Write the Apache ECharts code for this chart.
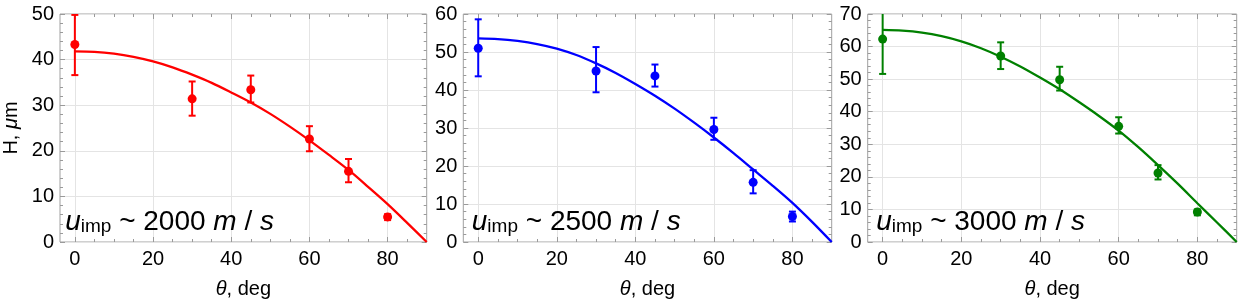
<!DOCTYPE html>
<html><head><meta charset="utf-8">
<script src="https://cdn.jsdelivr.net/npm/echarts@6/dist/echarts.min.js"></script>
<style>html,body{margin:0;padding:0;background:#fff}#c{width:1242px;height:304px}</style>
</head><body><div id="c"></div>
<script>
// ---- data ----
const angles = [0, 30, 45, 60, 70, 80];
const h2000 = [43.3, 31.4, 33.4, 22.6, 15.5, 5.5];
const h2000Lo = [36.6, 27.7, 30.6, 19.9, 13.1, 4.8];
const h2000Hi = [49.8, 35.2, 36.5, 25.4, 18.2, 6.1];
const h2500 = [51.0, 45.0, 43.7, 29.6, 15.7, 6.7];
const h2500Lo = [43.6, 39.4, 40.9, 26.9, 12.8, 5.4];
const h2500Hi = [58.6, 51.3, 46.7, 32.7, 18.9, 8.0];
const h3000 = [62.3, 57.1, 49.8, 35.5, 21.2, 9.2];
const h3000Lo = [51.6, 53.1, 46.5, 33.3, 19.2, 8.2];
const h3000Hi = [73.0, 61.3, 53.8, 38.3, 23.6, 10.0];
const fitAngles = [0, 5, 10, 15, 20, 25, 30, 35, 40, 45, 50, 55, 60, 65, 70, 75, 80, 85, 90];
const fit2000 = [41.8, 41.7, 41.3, 40.6, 39.6, 38.3, 36.7, 34.9, 32.8, 30.6, 28.1, 25.3, 22.3, 19.1, 15.8, 12.1, 8.3, 4.2, 0];
const fit2500 = [53.6, 53.4, 52.9, 52.1, 50.9, 49.2, 47.0, 44.5, 41.6, 38.5, 35.1, 31.4, 27.5, 23.4, 19.1, 14.8, 10.3, 5.3, 0];
const fit3000 = [65.1, 64.9, 64.3, 63.2, 61.6, 59.5, 56.9, 53.9, 50.5, 46.9, 42.9, 38.7, 34.2, 29.1, 23.6, 17.9, 11.9, 6.0, 0];
const xTicks = [0, 20, 40, 60, 80];
const xMinorTicks = [5, 10, 15, 25, 30, 35, 45, 50, 55, 65, 70, 75, 85];
const yMaxes = [50, 60, 70];
const speeds = ['2000', '2500', '3000'];
const colors = ['#ff0000', '#0000ff', '#008000'];

const panels = [
  {h: h2000, lo: h2000Lo, hi: h2000Hi, fit: fit2000},
  {h: h2500, lo: h2500Lo, hi: h2500Hi, fit: fit2500},
  {h: h3000, lo: h3000Lo, hi: h3000Hi, fit: fit3000}
];

// ---- layout ----
const gridBoxes = [
  {left: 56.7, width: 370},
  {left: 463.3, width: 368.4},
  {left: 867.7, width: 369}
];
const TOP = 14, HEIGHT = 228.7;
const FONT = 'Arial, "Liberation Sans", sans-serif';
const TICKC = '#9a9a9a';
const GRIDC = '#e4e4e4';

const grids = [], xAxes = [], yAxes = [], series = [], graphics = [];

function renderErr(params, api) {
  const x = api.value(0), lo = api.value(1), hi = api.value(2);
  const p1 = api.coord([x, hi]), p2 = api.coord([x, lo]);
  const w = 3.5;
  const style = {stroke: api.visual('color'), lineWidth: 2};
  return {type: 'group', children: [
    {type: 'line', shape: {x1: p1[0], y1: p1[1], x2: p2[0], y2: p2[1]}, style},
    {type: 'line', shape: {x1: p1[0] - w, y1: p1[1], x2: p1[0] + w, y2: p1[1]}, style},
    {type: 'line', shape: {x1: p2[0] - w, y1: p2[1], x2: p2[0] + w, y2: p2[1]}, style}
  ]};
}

panels.forEach((p, g) => {
  grids.push({left: gridBoxes[g].left, width: gridBoxes[g].width, top: TOP, height: HEIGHT,
    show: true, borderColor: '#a0a0a0', borderWidth: 1, backgroundColor: 'transparent'});
  const xBase = {type: 'value', gridIndex: g, min: -3.8, max: 90, axisLine: {show: false, onZero: false},
    splitLine: {show: false}, axisLabel: {show: false}};
  xAxes.push(Object.assign({}, xBase, {
    position: 'bottom',
    axisLabel: {show: true, customValues: xTicks, fontSize: 20, color: '#000', fontFamily: FONT, margin: 7},
    axisTick: {show: true, customValues: xTicks, inside: true, length: 5, lineStyle: {color: TICKC}},
    splitLine: {show: true, lineStyle: {color: GRIDC, width: 1}},
    name: '{i|θ}, deg', nameLocation: 'middle', nameGap: 37,
    nameTextStyle: {fontSize: 20, color: '#000', fontFamily: FONT,
      rich: {i: {fontStyle: 'italic', fontSize: 20, color: '#000', fontFamily: FONT}}}
  }));
  xAxes.push(Object.assign({}, xBase, {position: 'bottom',
    axisTick: {show: true, customValues: xMinorTicks, inside: true, length: 3, lineStyle: {color: TICKC}}}));
  xAxes.push(Object.assign({}, xBase, {position: 'top',
    axisTick: {show: true, customValues: xTicks, inside: true, length: 5, lineStyle: {color: TICKC}}}));
  xAxes.push(Object.assign({}, xBase, {position: 'top',
    axisTick: {show: true, customValues: xMinorTicks, inside: true, length: 3, lineStyle: {color: TICKC}}}));

  const yBase = {type: 'value', gridIndex: g, min: 0, max: yMaxes[g], interval: 10,
    axisLine: {show: false, onZero: false},
    axisTick: {show: true, inside: true, length: 5, lineStyle: {color: TICKC}},
    minorTick: {show: true, splitNumber: 5, length: 3, lineStyle: {color: TICKC}}};
  yAxes.push(Object.assign({}, yBase, {position: 'left',
    axisLabel: {fontSize: 20, color: '#000', fontFamily: FONT, margin: 6},
    splitLine: {show: true, lineStyle: {color: GRIDC, width: 1}},
    name: g === 0 ? 'H, {i|μ}m' : '', nameLocation: 'middle', nameGap: 39,
    nameTextStyle: {fontSize: 20, color: '#000', fontFamily: FONT,
      rich: {i: {fontStyle: 'italic', fontSize: 20, color: '#000', fontFamily: FONT}}}
  }));
  yAxes.push(Object.assign({}, yBase, {position: 'right', axisLabel: {show: false}, splitLine: {show: false}}));

  const xi = 4 * g, yi = 2 * g;
  series.push({type: 'line', xAxisIndex: xi, yAxisIndex: yi, data: fitAngles.map((a, i) => [a, p.fit[i]]),
    smooth: 0.3, showSymbol: false, symbol: 'none', clip: true,
    lineStyle: {color: colors[g], width: 2.3}, z: 2});
  series.push({type: 'custom', xAxisIndex: xi, yAxisIndex: yi, clip: true,
    data: angles.map((a, i) => [a, p.lo[i], p.hi[i]]), renderItem: renderErr,
    itemStyle: {color: colors[g]}, encode: {x: 0, y: [1, 2]}, z: 3});
  series.push({type: 'scatter', xAxisIndex: xi, yAxisIndex: yi, data: angles.map((a, i) => [a, p.h[i]]),
    symbolSize: 9, itemStyle: {color: colors[g], opacity: 1}, z: 4});

  graphics.push({type: 'text', left: gridBoxes[g].left + 8.5, top: 208, z: 10,
    style: {
      text: '{u|u}{s|imp}{n| ~ ' + speeds[g] + ' }{u|m}{n| / }{u|s}',
      rich: {
        u: {fontSize: 28, fontStyle: 'italic', fontFamily: FONT, fill: '#000', lineHeight: 32},
        n: {fontSize: 28, fontFamily: FONT, fill: '#000', lineHeight: 32},
        s: {fontSize: 19, fontFamily: FONT, fill: '#000', lineHeight: 32, padding: [9, 0, 0, 0]}
      }
    }});
});

const chart = echarts.init(document.getElementById('c'), null, {renderer: 'canvas'});
chart.setOption({
  animation: false,
  backgroundColor: '#fff',
  grid: grids,
  xAxis: xAxes,
  yAxis: yAxes,
  series: series,
  graphic: graphics
});
</script>
</body></html>
